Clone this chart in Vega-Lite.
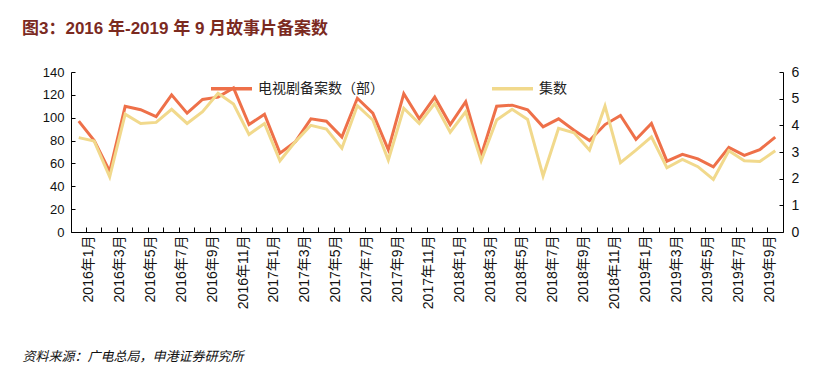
{
  "$schema": "https://vega.github.io/schema/vega-lite/v6.json",
  "autosize": {"type": "none"},
  "width": 712,
  "height": 160,
  "padding": {"left": 71, "top": 72, "right": 38, "bottom": 140},
  "background": "white",
  "config": {
    "view": {"stroke": null},
    "font": "Liberation Sans, Noto Sans CJK SC, sans-serif",
    "axis": {"grid": false, "domainColor": "#000", "tickColor": "#000", "labelColor": "#111", "labelFont": "Liberation Sans, Noto Sans CJK SC"}
  },
  "title": {
    "text": "图3：2016 年-2019 年 9 月故事片备案数",
    "anchor": "start",
    "frame": "group",
    "dx": -49,
    "offset": 27,
    "fontSize": 17,
    "fontWeight": "bold",
    "color": "#7B2A1F",
    "font": "Liberation Sans, Noto Sans CJK SC"
  },
  "data": {
    "values": [
      {"month": "2016年1月", "count": 97, "episodes": 3.54},
      {"month": "2016年2月", "count": 80, "episodes": 3.41},
      {"month": "2016年3月", "count": 53, "episodes": 2.07},
      {"month": "2016年4月", "count": 110, "episodes": 4.42},
      {"month": "2016年5月", "count": 107, "episodes": 4.07},
      {"month": "2016年6月", "count": 101, "episodes": 4.11},
      {"month": "2016年7月", "count": 120, "episodes": 4.6},
      {"month": "2016年8月", "count": 104, "episodes": 4.07},
      {"month": "2016年9月", "count": 116, "episodes": 4.51},
      {"month": "2016年10月", "count": 118, "episodes": 5.2},
      {"month": "2016年11月", "count": 126, "episodes": 4.8},
      {"month": "2016年12月", "count": 94, "episodes": 3.66},
      {"month": "2017年1月", "count": 103, "episodes": 4.07},
      {"month": "2017年2月", "count": 69, "episodes": 2.67},
      {"month": "2017年3月", "count": 79, "episodes": 3.39},
      {"month": "2017年4月", "count": 99, "episodes": 4.0},
      {"month": "2017年5月", "count": 97, "episodes": 3.86},
      {"month": "2017年6月", "count": 83, "episodes": 3.14},
      {"month": "2017年7月", "count": 117, "episodes": 4.74},
      {"month": "2017年8月", "count": 104, "episodes": 4.2},
      {"month": "2017年9月", "count": 72, "episodes": 2.7},
      {"month": "2017年10月", "count": 121, "episodes": 4.64},
      {"month": "2017年11月", "count": 99, "episodes": 4.07},
      {"month": "2017年12月", "count": 118, "episodes": 4.82},
      {"month": "2018年1月", "count": 94, "episodes": 3.74},
      {"month": "2018年2月", "count": 114, "episodes": 4.51},
      {"month": "2018年3月", "count": 67, "episodes": 2.67},
      {"month": "2018年4月", "count": 110, "episodes": 4.2},
      {"month": "2018年5月", "count": 111, "episodes": 4.6},
      {"month": "2018年6月", "count": 107, "episodes": 4.22},
      {"month": "2018年7月", "count": 92, "episodes": 2.1},
      {"month": "2018年8月", "count": 99, "episodes": 3.89},
      {"month": "2018年9月", "count": 89, "episodes": 3.72},
      {"month": "2018年10月", "count": 80, "episodes": 3.07},
      {"month": "2018年11月", "count": 94, "episodes": 4.72},
      {"month": "2018年12月", "count": 102, "episodes": 2.6},
      {"month": "2019年1月", "count": 81, "episodes": 3.07},
      {"month": "2019年2月", "count": 95, "episodes": 3.57},
      {"month": "2019年3月", "count": 62, "episodes": 2.41},
      {"month": "2019年4月", "count": 68, "episodes": 2.72},
      {"month": "2019年5月", "count": 64, "episodes": 2.45},
      {"month": "2019年6月", "count": 57, "episodes": 1.97},
      {"month": "2019年7月", "count": 74, "episodes": 3.05},
      {"month": "2019年8月", "count": 67, "episodes": 2.67},
      {"month": "2019年9月", "count": 72, "episodes": 2.64},
      {"month": "2019年10月", "count": 83, "episodes": 3.05}
    ]
  },
  "layer": [
    {
      "mark": {"type": "line", "strokeWidth": 3},
      "encoding": {
        "x": {
          "field": "month", "type": "ordinal", "sort": null,
          "scale": {"type": "band", "paddingInner": 0, "paddingOuter": 0},
          "axis": {
            "title": "资料来源：广电总局，申港证券研究所",
            "titleX": -49, "titleY": 128, "titleAlign": "left", "titleAnchor": "start", "titleAngle": 0,
            "titleBaseline": "alphabetic", "titleFont": "Noto Sans CJK SC", "titleFontStyle": "italic",
            "titleFontWeight": "normal", "titleFontSize": 13, "titleColor": "#111",
            "bandPosition": 0, "tickSize": -5, "labelAngle": -90, "labelAlign": "right", "labelBaseline": "middle",
            "labelOffset": 10, "labelPadding": 8, "labelFontSize": 14, "labelOverlap": false,
            "labelExpr": "test(/年(1|3|5|7|9|11)月$/, datum.value) ? datum.value : ''"
          }
        },
        "y": {
          "field": "count", "type": "quantitative",
          "scale": {"domain": [0, 140], "nice": false},
          "axis": {"title": null, "values": [0, 20, 40, 60, 80, 100, 120, 140], "tickSize": -4, "labelPadding": 11, "labelFontSize": 13}
        },
        "color": {
          "datum": "电视剧备案数（部）",
          "scale": {"domain": ["电视剧备案数（部）", "集数"], "range": ["#EE7049", "#F1D98C"]},
          "legend": {
            "title": null, "orient": "none", "legendX": 138, "legendY": -6, "direction": "horizontal",
            "symbolType": "stroke", "symbolSize": 1681, "symbolStrokeWidth": 3.5, "labelFontSize": 14,
            "labelFont": "Noto Sans CJK SC", "labelColor": "#222", "columnPadding": 101, "labelOffset": 4
          }
        }
      }
    },
    {
      "mark": {"type": "line", "strokeWidth": 3},
      "encoding": {
        "x": {"field": "month", "type": "ordinal", "sort": null},
        "y": {
          "field": "episodes", "type": "quantitative",
          "scale": {"domain": [0, 6], "nice": false},
          "axis": {"title": null, "orient": "right", "values": [0, 1, 2, 3, 4, 5, 6], "tickSize": -4, "labelPadding": 12, "labelFontSize": 14}
        },
        "color": {"datum": "集数"}
      }
    }
  ],
  "resolve": {"scale": {"y": "independent"}}
}
